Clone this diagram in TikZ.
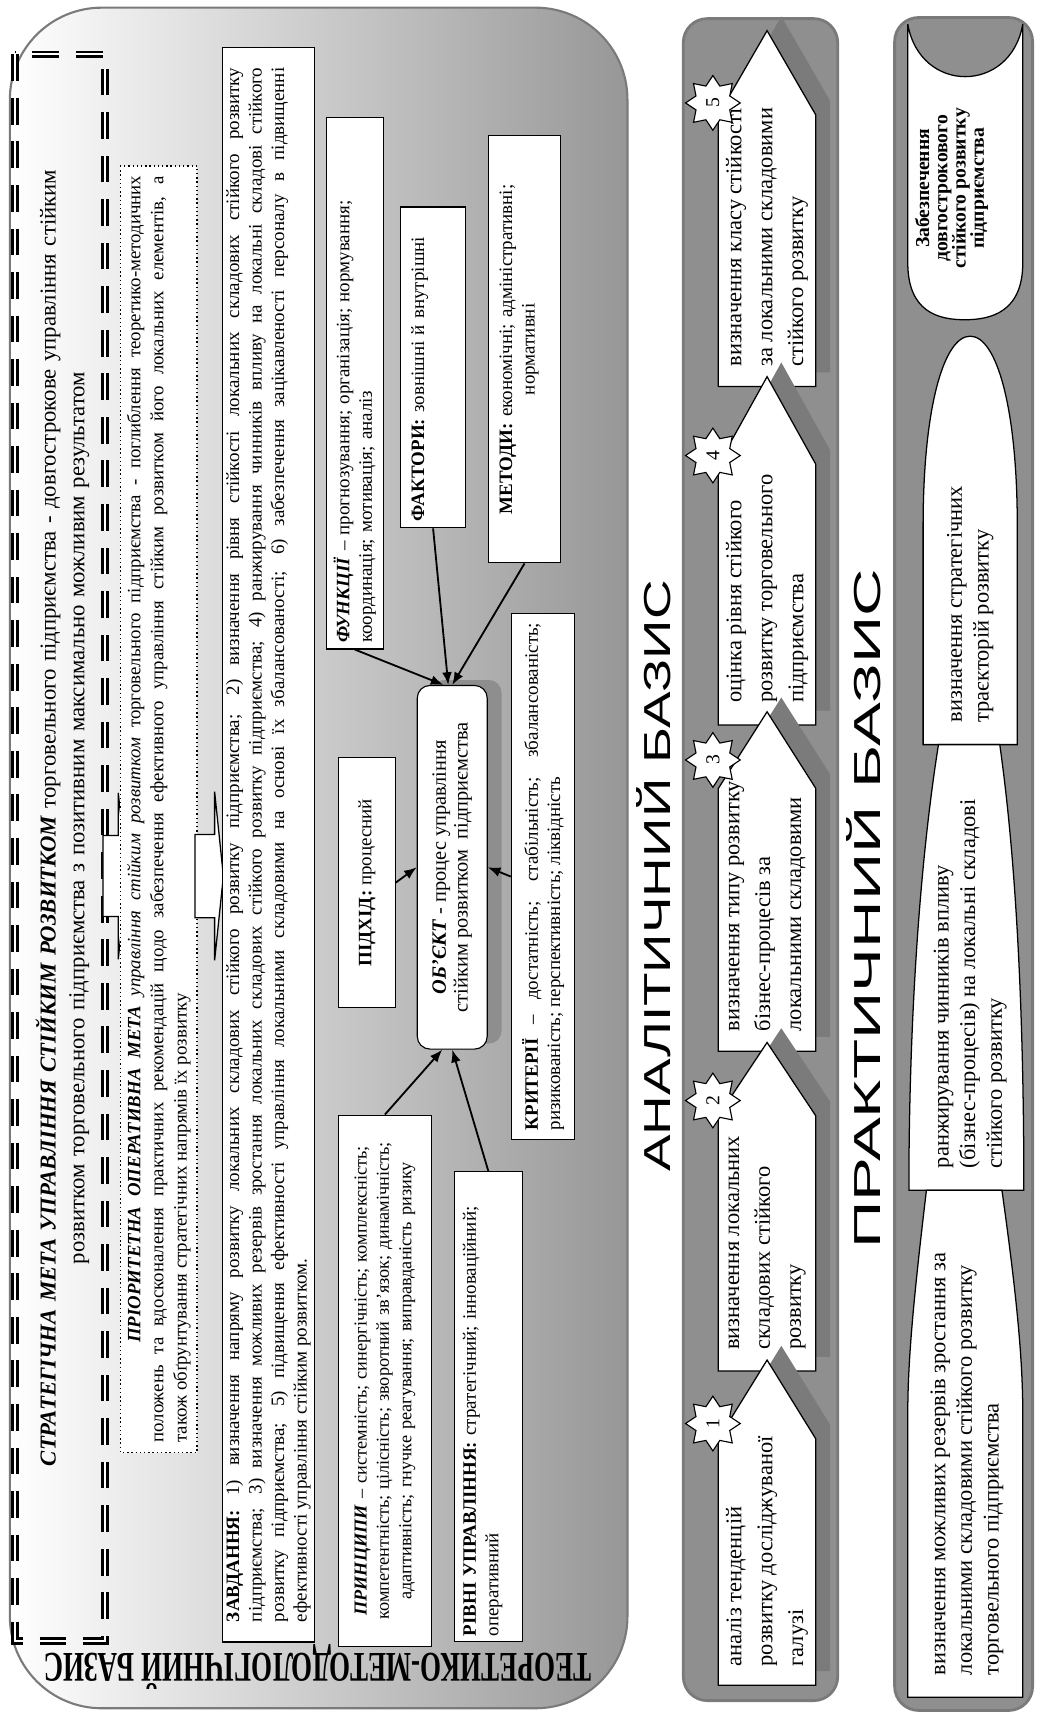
\documentclass[tikz,border=0pt]{standalone}
\usepackage{fontspec}
\setmainfont{Liberation Serif}
\newfontfamily\basisfont{Liberation Sans}
\usetikzlibrary{shapes.geometric,arrows.meta}

\definecolor{panelgray}{HTML}{8F8F8F}
\definecolor{paneledge}{HTML}{7A7A7A}
\definecolor{gradgray}{HTML}{979797}
\definecolor{stepshade}{HTML}{7B7B7B}
\definecolor{objshade}{HTML}{8E8E8E}
\newcommand{\fsz}[2]{\fontsize{#1}{#2}\selectfont}

\begin{document}
\begin{tikzpicture}[
                  x = 0.0274cm,
                  y = -0.0274cm,
      textbox/.style = {draw, fill=white, rotate=90, line width=0.8pt,
                        inner xsep=3pt, inner ysep=1pt, font=\fsz{13.5}{16}},
    goalframe/.style = {draw, double, double distance=1.5pt, line width=2pt,
                        dash pattern=on 19pt off 12pt, rotate=90},
    prioframe/.style = {draw, fill=white, dotted, line width=1pt, rotate=90},
       objbox/.style = {textbox, rounded corners=9pt, font=\fsz{14.5}{15.5}},
         link/.style = {draw, line width=1.3pt, -{Latex[length=9pt,width=7pt]}},
   blockarrow/.style = {draw, fill=white, line width=0.9pt},
        panel/.style = {draw=paneledge, fill=panelgray, line width=2pt, rounded corners=0.6cm},
    stepshape/.style = {draw, fill=white, line width=0.9pt},
     steptext/.style = {rotate=90, align=left, inner sep=0pt, font=\fsz{16}{22}},
     stepstar/.style = {star, star points=8, star point ratio=1.5, draw, fill=white,
                        line width=0.8pt, minimum size=1.37cm, inner sep=0pt,
                        rotate=90, font=\fsz{14}{14}},
     basetext/.style = {rotate=90, align=left, inner sep=0pt, font=\fsz{16}{19}},
                     ]
\useasboundingbox (0,0) rectangle (947,1568);

% theory panel
\path[draw=paneledge, line width=1.5pt, left color=white, right color=gradgray,
      rounded corners=2.3cm] (9,7) rectangle (573,1560);
\node[rotate=180] (theotitle) at (290,1522)
  {\resizebox{13.7cm}{0.9cm}{\bfseries ТЕОРЕТИКО-МЕТОДОЛОГІЧНИЙ БАЗИС}};

\node[goalframe, minimum width=39.7cm, minimum height=2.25cm] (goal) at (55,774) {};
\node[rotate=90, align=center, text width=38cm, font=\fsz{16.2}{20.5}] (goaltext) at (57,747)
  {\textbf{\textit{СТРАТЕГІЧНА МЕТА УПРАВЛІННЯ СТІЙКИМ РОЗВИТКОМ}} торговельного підприємства - довгострокове управління стійким\\
   розвитком торговельного підприємства з позитивним максимально можливим результатом};

\draw[blockarrow] (94,763) -- (108,763) -- (108,724) -- (116,800) -- (108,876) -- (108,837) -- (94,837) -- cycle;

\node[prioframe, minimum width=32.2cm, minimum height=1.92cm, text width=31.7cm,
      align=justify, font=\fsz{13.4}{16.5}, inner xsep=3pt] (prio) at (145,739)
  {\hspace*{2.5cm}\textbf{\textit{ПРІОРИТЕТНА ОПЕРАТИВНА МЕТА}} \textit{управління стійким розвитком} торговельного підприємства - поглиблення теоретико-методичних\linebreak
   положень та вдосконалення практичних рекомендацій щодо забезпечення ефективного управління стійким розвитком його локальних елементів, а\linebreak
   також обґрунтування стратегічних напрямів їх розвитку};

\draw[blockarrow] (178,762) -- (196,762) -- (196,723) -- (204,800) -- (196,877) -- (196,838) -- (178,838) -- cycle;

\node[textbox, minimum width=39.9cm, minimum height=2.3cm, text width=38.9cm, align=justify] (tasks) at (245,771.5)
  {\textbf{ЗАВДАННЯ:} 1) визначення напряму розвитку локальних складових стійкого розвитку підприємства; 2) визначення рівня стійкості локальних складових стійкого розвитку\linebreak
   підприємства; 3) визначення можливих резервів зростання локальних складових стійкого розвитку підприємства; 4) ранжирування чинників впливу на локальні складові стійкого\linebreak
   розвитку підприємства; 5) підвищення ефективності управління локальними складовими на основі їх збалансованості; 6) забезпечення зацікавленості персоналу в підвищенні\linebreak
   ефективності управління стійким розвитком.};

% around the object
\node[textbox, minimum width=13.3cm, minimum height=1.42cm, text width=13cm, align=left] (fun) at (324,350)
  {\textbf{\textit{ФУНКЦІЇ}} – прогнозування; організація; нормування;\\ координація; мотивація; аналіз};
\node[textbox, minimum width=8.03cm, minimum height=1.62cm, text width=7.7cm, align=left] (fact) at (395.5,335.5)
  {\textbf{ФАКТОРИ:} зовнішні й внутрішні\\[6pt]\mbox{}};
\node[textbox, minimum width=10.69cm, minimum height=1.81cm, text width=10.4cm, align=center] (meth) at (479,319)
  {\textbf{МЕТОДИ:} економічні; адміністративні;\\ нормативні\\[-5.5pt]\mbox{}};
\node[textbox, minimum width=6.25cm, minimum height=1.42cm, align=center] (appr) at (335,806)
  {\textbf{ПІДХІД:} процесний};
\fill[objshade, rounded corners=9pt] (394,621) rectangle (458,953);
\node[objbox, minimum width=9.1cm, minimum height=1.75cm, align=center] (obj) at (413,792)
  {\textbf{\textit{ОБ’ЄКТ}} - процес управління\\ стійким розвитком~~підприємства};
\node[textbox, minimum width=13.18cm, minimum height=1.59cm, text width=12.7cm, align=justify] (crit) at (496,800.5)
  {\textbf{КРИТЕРІЇ} – достатність; стабільність; збалансованість;\linebreak ризикованість; перспективність; ліквідність};
\node[textbox, minimum width=13.3cm, minimum height=2.33cm, text width=13cm, align=center, font=\fsz{13}{16}] (princ) at (351.5,1261)
  {\textbf{\textit{ПРИНЦИПИ}} – системність; синергічність; комплексність;\\
   компетентність; цілісність; зворотний зв’язок; динамічність;\\
   адаптивність; гнучке реагування; виправданість ризику};
\node[textbox, minimum width=11.75cm, minimum height=1.7cm, text width=11.5cm, align=left] (levels) at (446,1284.5)
  {\textbf{РІВНІ УПРАВЛІННЯ:} стратегічний; інноваційний;\\ оперативний\\[-5pt]\mbox{}};

\draw[link] (fun.west) -- ([xshift=-0.22cm]obj.east);
\draw[link] (fact.west) -- ([xshift=-0.1cm]obj.east);
\draw[link] (meth.west) -- (obj.east);
\draw[link] (appr.south) -- (obj.north);
\draw[link] (crit.north) -- (obj.south);
\draw[link] (princ.east) -- ([xshift=-0.25cm]obj.west);
\draw[link] (levels.east) -- (obj.west);

% analytic basis
\node[rotate=90] (analtitle) at (597,800)
  {\resizebox{14.8cm}{0.85cm}{\basisfont АНАЛІТИЧНИЙ БАЗИС}};
\path[panel] (624,17) rectangle (765,1553);

\fill[stepshade, shift={(13,-13)}] (656,353) -- (656,105) -- (700.5,28) -- (745,105) -- (745,353) -- cycle;
\path[stepshape] (656,353) -- (656,105) -- (700.5,28) -- (745,105) -- (745,353) -- cycle;
\fill[stepshade, shift={(13,-13)}] (656,662) -- (656,424) -- (700.5,344) -- (745,424) -- (745,662) -- cycle;
\path[stepshape] (656,662) -- (656,424) -- (700.5,344) -- (745,424) -- (745,662) -- cycle;
\fill[stepshade, shift={(13,-13)}] (656,960) -- (656,720) -- (700.5,650) -- (745,720) -- (745,960) -- cycle;
\path[stepshape] (656,960) -- (656,720) -- (700.5,650) -- (745,720) -- (745,960) -- cycle;
\fill[stepshade, shift={(13,-13)}] (656,1252) -- (656,1019) -- (700.5,952) -- (745,1019) -- (745,1252) -- cycle;
\path[stepshape] (656,1252) -- (656,1019) -- (700.5,952) -- (745,1019) -- (745,1252) -- cycle;
\fill[stepshade, shift={(13,-13)}] (656,1539) -- (656,1314) -- (700.5,1242) -- (745,1314) -- (745,1539) -- cycle;
\path[stepshape] (656,1539) -- (656,1314) -- (700.5,1242) -- (745,1314) -- (745,1539) -- cycle;

\node[steptext, anchor=west] (step5) at (700.5,335) {визначення класу стійкості\\ за локальними складовими\\ стійкого розвитку};
\node[steptext, anchor=west] (step4) at (700.5,642) {оцінка рівня стійкого\\ розвитку торговельного\\ підприємства};
\node[steptext, anchor=west] (step3) at (700.5,942) {визначення типу розвитку\\ бізнес-процесів за\\ локальними складовими};
\node[steptext, anchor=west] (step2) at (700.5,1233) {визначення локальних\\ складових стійкого\\ розвитку};
\node[steptext, anchor=west] (step1) at (700.5,1522) {аналіз тенденцій\\ розвитку досліджуваної\\ галузі};

\node[stepstar] (star5) at (651,94) {5};
\node[stepstar] (star4) at (651,416) {4};
\node[stepstar] (star3) at (651,694) {3};
\node[stepstar] (star2) at (651,1005) {2};
\node[stepstar] (star1) at (651,1300) {1};

% practical basis
\node[rotate=90] (practitle) at (789,830)
  {\resizebox{17cm}{0.85cm}{\basisfont ПРАКТИЧНИЙ БАЗИС}};
\path[panel] (817,16) rectangle (943,1562);

\path[stepshape] (829,22) .. controls (840,86) and (923,86) .. (934,22) -- (934,240)
  .. controls (934,285) and (905,292) .. (881,292) .. controls (857,292) and (829,285) .. (829,240) -- cycle;
\path[stepshape] (843,680) -- (843,480) .. controls (843,372) and (862,307) .. (886,307)
  .. controls (910,307) and (929,372) .. (929,480) -- (929,680) -- cycle;
\path[stepshape] (857,680) .. controls (838,800) and (830,950) .. (830,1087) -- (935,1087)
  .. controls (935,950) and (930,800) .. (913,680) -- cycle;
\path[stepshape] (846,1087) .. controls (835,1180) and (829,1240) .. (829,1290) -- (829,1550)
  -- (934,1550) -- (934,1290) .. controls (934,1240) and (928,1180) .. (915,1087) -- cycle;

\node[rotate=90, align=center, font=\bfseries\fsz{14}{13}] (provide) at (869,172)
  {Забезпечення\\ довгострокового\\ стійкого розвитку\\ підприємства};
\node[basetext, anchor=west] (traj) at (886,660) {визначення стратегічних\\ траєкторій розвитку};
\node[basetext, anchor=west] (rank) at (886,1067) {ранжирування чинників впливу\\ (бізнес-процесів) на локальні складові\\ стійкого розвитку};
\node[basetext, anchor=west] (reserve) at (883,1530) {визначення можливих резервів зростання за\\ локальними складовими стійкого розвитку\\ торговельного підприємства};
\end{tikzpicture}
\end{document}
